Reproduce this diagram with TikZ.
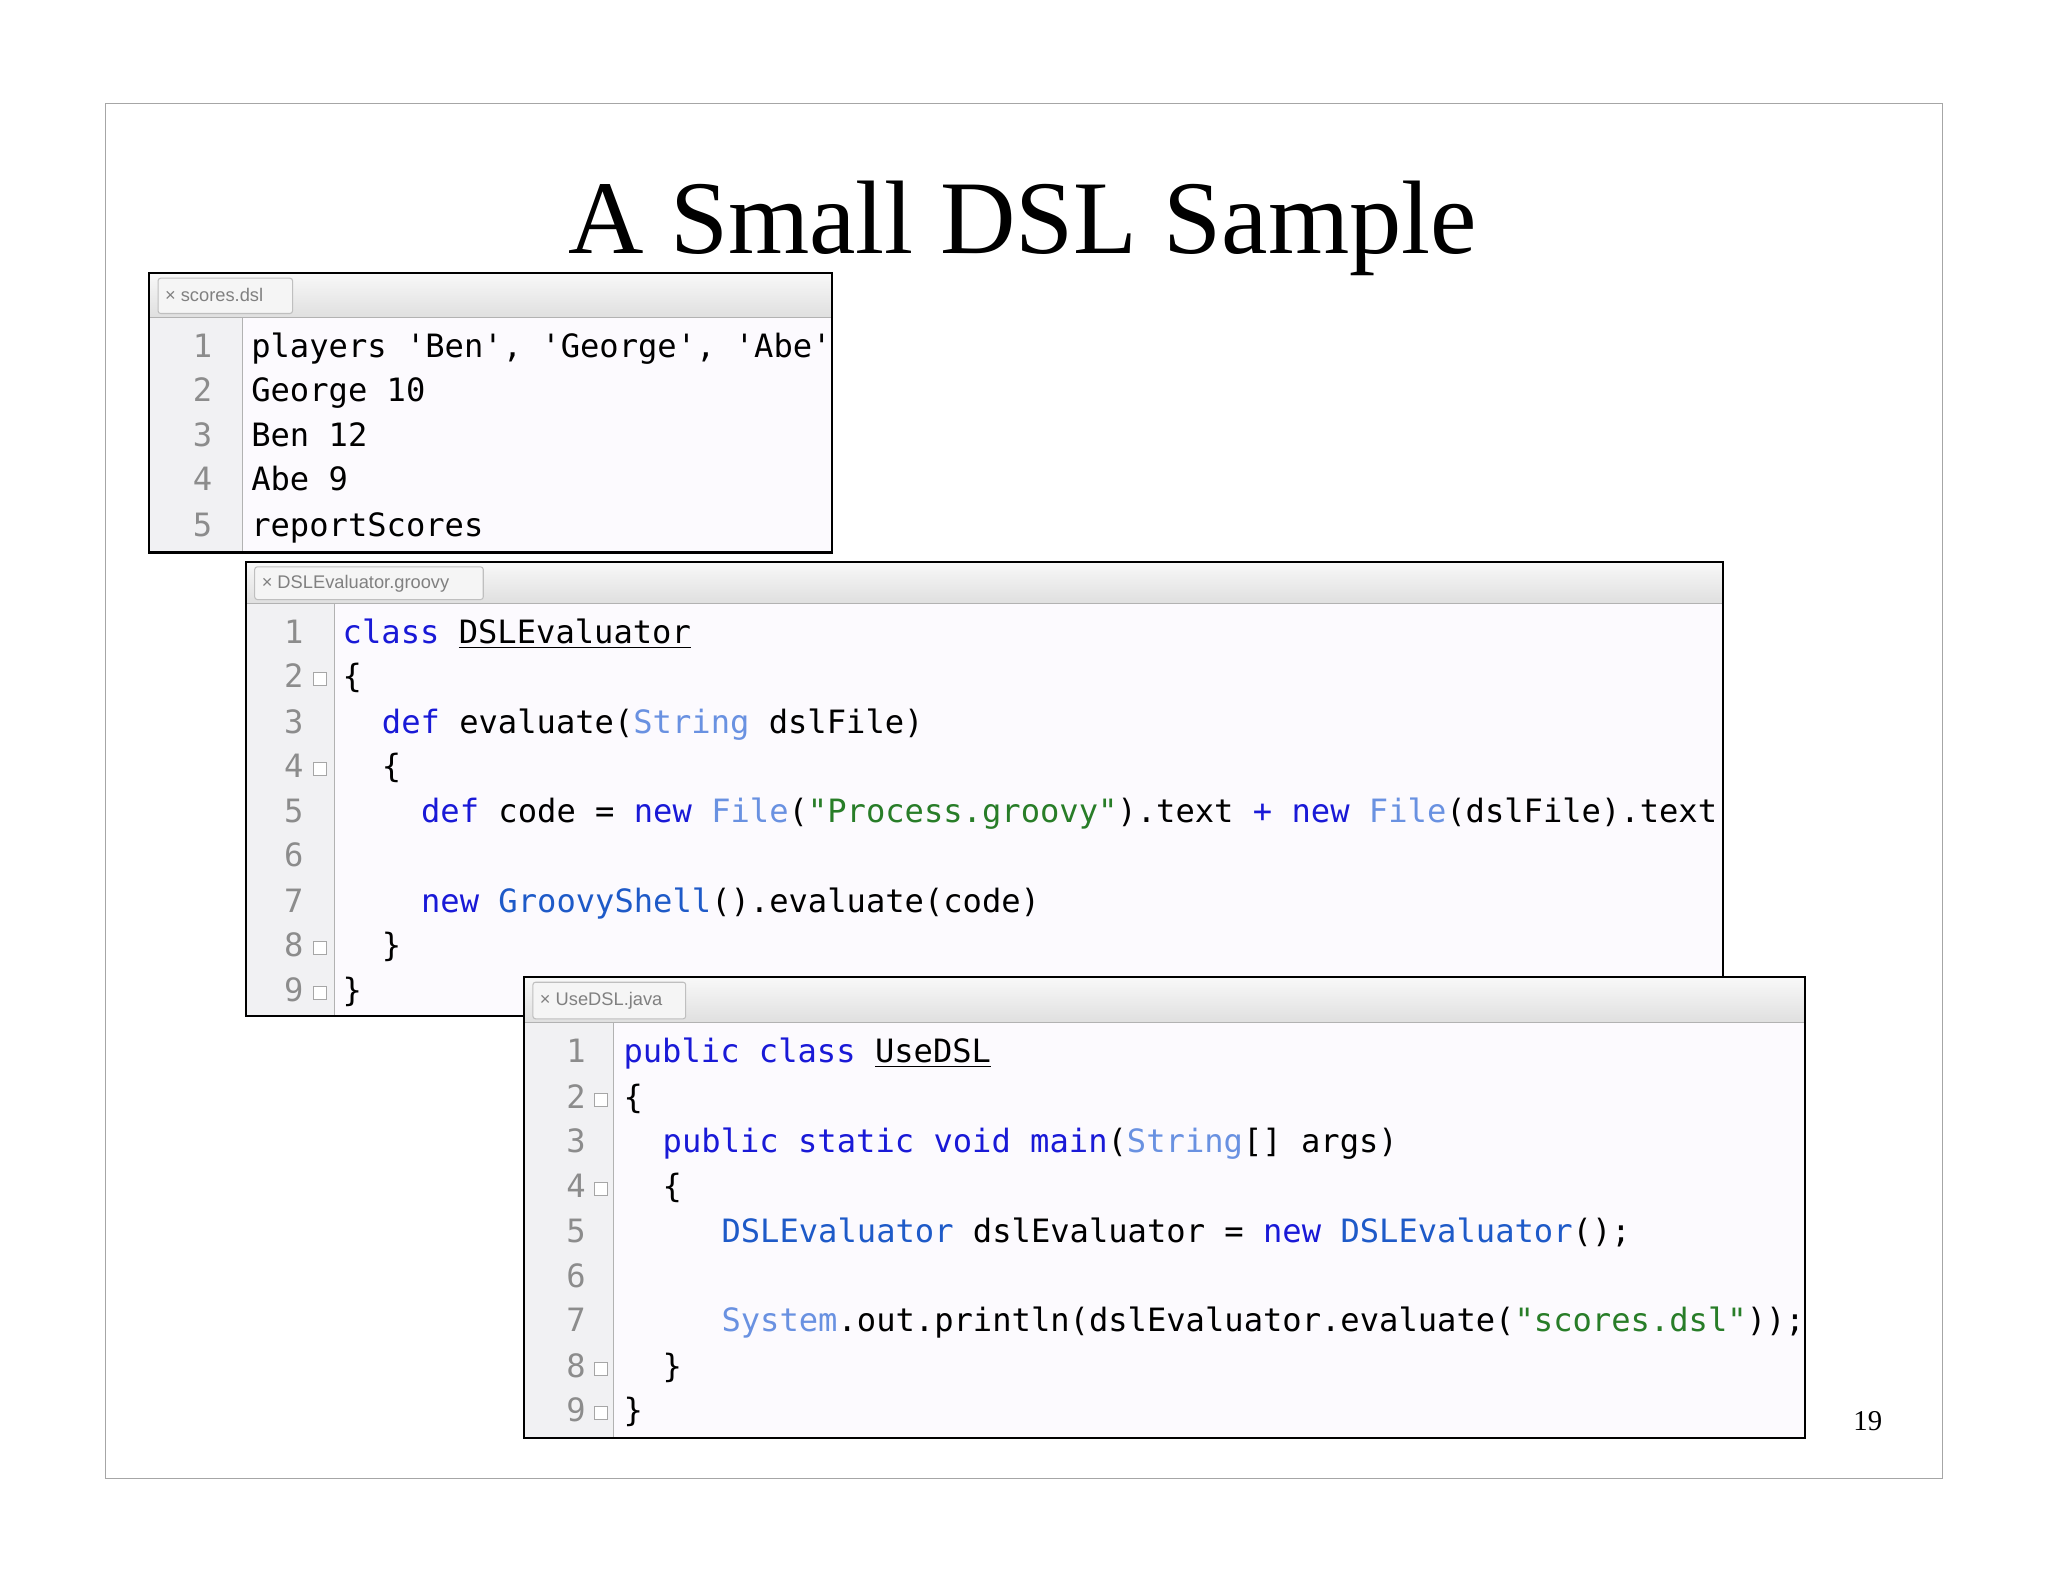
\documentclass[tikz,border=0pt]{standalone}
\usepackage{fontspec}
\setmainfont{Liberation Serif}
\newfontfamily\codef{DejaVu Sans Mono}
\newfontfamily\tabf{Liberation Sans}
\definecolor{kw}{RGB}{25,25,215}
\definecolor{typ}{RGB}{105,145,225}
\definecolor{cls}{RGB}{30,90,200}
\definecolor{strc}{RGB}{40,125,40}
\definecolor{codebg}{RGB}{252,250,254}
\definecolor{gutbg}{RGB}{241,241,243}
\definecolor{numc}{RGB}{140,140,140}
\definecolor{tabbg}{RGB}{232,232,232}
\newcommand\sq{\char39\relax}
\newcommand\K[1]{\textcolor{kw}{#1}}
\newcommand\T[1]{\textcolor{typ}{#1}}
\newcommand\C[1]{\textcolor{cls}{#1}}
\newcommand\St[1]{\textcolor{strc}{#1}}
\tikzset{
 codeline/.style={anchor=mid west,inner sep=0pt,yshift=-2pt,font=\codef\fontsize{12.3}{14}\selectfont},
 lnum/.style={anchor=mid,inner sep=0pt,yshift=-2pt,text=numc,font=\codef\fontsize{12.3}{14}\selectfont},
 tabtxt/.style={anchor=mid west,inner sep=0pt,text=gray,font=\tabf\fontsize{7}{8}\selectfont},
 winframe/.style={draw=black,line width=0.8pt},
 fold/.style={draw=gray!70,fill=white,line width=0.4pt,minimum size=5pt,inner sep=0pt}
}
% #1 x1 #2 y1 #3 x2 #4 y2 #5 tabbar bottom #6 gutter x #7 tab right #8 tab text
\newcommand\win[8]{%
 \fill[codebg] (#1,#5) rectangle (#3,#4);
 \fill[gutbg] (#1,#5) rectangle (#6,#4);
 \draw[gray!60,line width=0.4pt] (#6,#5) -- (#6,#4);
 \shade[top color=white!95!gray,bottom color=gray!25] (#1,#2) rectangle (#3,#5);
 \draw[gray!60,line width=0.4pt] (#1,#5) -- (#3,#5);
 \draw[gray!50,fill=white!92!gray,rounded corners=1pt] (#1+7,#2+4) rectangle (#7,#5-3);
 \node[tabtxt] at (#1+12,{(#2+#5)/2}) {× #8};
}
\begin{document}
\begin{tikzpicture}[x=0.5pt,y=-0.5pt]
\useasboundingbox (0,0) rectangle (1568,1212);
\fill[white] (0,0) rectangle (1568,1212);
\draw[gray!70,line width=0.5pt] (81,79) rectangle (1487,1132);
\node[font=\fontsize{40}{46}\selectfont] (title) at (783,175) {A Small DSL Sample};
\node[font=\fontsize{11}{13}\selectfont] (pg) at (1430,1088) {19};

% window 1
\begin{scope}
\clip (114,209) rectangle (637,423);
\win{114}{209}{637}{423}{243}{186}{224}{scores.dsl}
\foreach \n/\y in {1/265,2/299,3/333,4/367,5/402} \node[lnum] at (155,\y) {\n};
\node[codeline] (a1) at (192,265) {players \sq Ben\sq, \sq George\sq, \sq Abe\sq};
\node[codeline] (a2) at (192,299) {George 10};
\node[codeline] (a3) at (192,333) {Ben 12};
\node[codeline] (a4) at (192,367) {Abe 9};
\node[codeline] (a5) at (192,402) {reportScores};
\end{scope}
\draw[winframe] (114,209) rectangle (637,423);

% window 2
\begin{scope}
\clip (188,430) rectangle (1319,778);
\win{188}{430}{1319}{778}{462}{256}{370}{DSLEvaluator.groovy}
\foreach \n/\y in {1/484,2/518,3/553,4/587,5/621,6/655,7/690,8/724,9/758} \node[lnum] at (225,\y) {\n};
\foreach \y in {518,587,724,758} \node[fold] at (245,\y+2) {};
\node[codeline] (b1) at (262,484) {\K{class} \underline{DSLEvaluator}};
\node[codeline] (b2) at (262,518) {\{};
\node[codeline] (b3) at (292,553) {\K{def} evaluate(\T{String} dslFile)};
\node[codeline] (b4) at (292,587) {\{};
\node[codeline] (b5) at (322,621) {\K{def} code = \K{new} \T{File}(\St{"Process.groovy"}).text \K{+} \K{new} \T{File}(dslFile).text};
\node[codeline] (b7) at (322,690) {\K{new} \C{GroovyShell}().evaluate(code)};
\node[codeline] (b8) at (292,724) {\}};
\node[codeline] (b9) at (262,758) {\}};
\end{scope}
\draw[winframe] (188,430) rectangle (1319,778);

% window 3
\begin{scope}
\clip (401,748) rectangle (1382,1101);
\win{401}{748}{1382}{1101}{783}{470}{525}{UseDSL.java}
\foreach \n/\y in {1/805,2/840,3/874,4/908,5/943,6/977,7/1011,8/1046,9/1080} \node[lnum] at (441,\y) {\n};
\foreach \y in {840,908,1046,1080} \node[fold] at (460,\y+2) {};
\node[codeline] (c1) at (477,805) {\K{public class} \underline{UseDSL}};
\node[codeline] (c2) at (477,840) {\{};
\node[codeline] (c3) at (507,874) {\K{public static void main}(\T{String}[] args)};
\node[codeline] (c4) at (507,908) {\{};
\node[codeline] (c5) at (552,943) {\C{DSLEvaluator} dslEvaluator = \K{new} \C{DSLEvaluator}();};
\node[codeline] (c7) at (552,1011) {\T{System}.out.println(dslEvaluator.evaluate(\St{"scores.dsl"}));};
\node[codeline] (c8) at (507,1046) {\}};
\node[codeline] (c9) at (477,1080) {\}};
\end{scope}
\draw[winframe] (401,748) rectangle (1382,1101);
\end{tikzpicture}
\end{document}
